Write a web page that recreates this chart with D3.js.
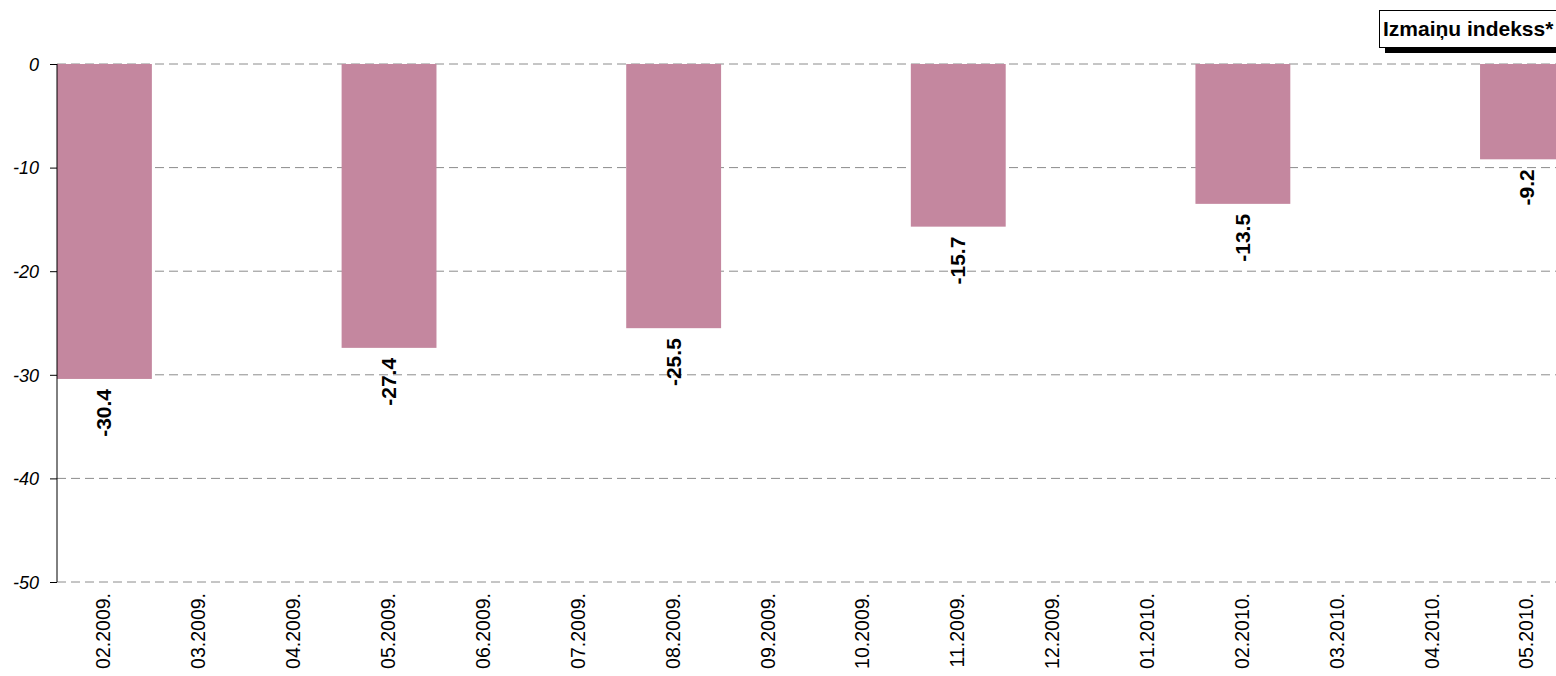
<!DOCTYPE html>
<html><head><meta charset="utf-8">
<script src="https://cdn.jsdelivr.net/npm/d3@7"></script>
<style>body{margin:0;background:#fff}svg{display:block}</style>
</head><body>
<svg id="c" width="1556" height="676"></svg>
<script>
const categories = ["02.2009.","03.2009.","04.2009.","05.2009.","06.2009.","07.2009.","08.2009.","09.2009.","10.2009.","11.2009.","12.2009.","01.2010.","02.2010.","03.2010.","04.2010.","05.2010."];
const values = [-30.4,null,null,-27.4,null,null,-25.5,null,null,-15.7,null,null,-13.5,null,null,-9.2];
const yTicks = [0,-10,-20,-30,-40,-50];
const legendLabel = "Izmaiņu indekss*";

(function(){
const svg = d3.select("#c");
const plotLeft = 57, plotTop = 64, plotBottom = 582, step = 94.87;
const x = d3.scaleBand().domain(categories).range([plotLeft, plotLeft + step*categories.length]).padding(0);
const y = d3.scaleLinear().domain([-50, 0]).range([plotBottom, plotTop]);
const font = "Arial, 'Liberation Sans', sans-serif";
const fmt = d => String(d);

svg.append("g").selectAll("line").data(yTicks).join("line")
  .attr("x1", plotLeft).attr("x2", 1556)
  .attr("y1", d => y(d)).attr("y2", d => y(d))
  .attr("stroke", "#8c8c8c").attr("stroke-width", 1).attr("stroke-dasharray", "9,5");

const data = categories.map((c,i)=>({c, v: values[i]})).filter(d=>d.v!=null);
svg.append("g").selectAll("rect").data(data).join("rect")
  .attr("x", d => x(d.c)).attr("width", x.bandwidth())
  .attr("y", y(0)).attr("height", d => y(d.v) - y(0))
  .attr("fill", "#c4879f");

const yAxis = d3.axisLeft(y).tickValues(yTicks).tickSize(7).tickFormat(fmt);
const gy = svg.append("g").attr("transform", `translate(${plotLeft},0)`).call(yAxis);
gy.select(".domain").attr("d", `M0,${plotTop}V${plotBottom}`).attr("stroke", "#000");
gy.selectAll(".tick line").attr("stroke", "#000");
gy.selectAll(".tick text").attr("x", -18).attr("dy", "0.35em")
  .style("font-family", font).style("font-size", "18px").style("font-style", "italic").attr("fill", "#000");

svg.append("g").selectAll("text").data(categories).join("text")
  .attr("transform", d => `translate(${x(d) + x.bandwidth()/2 + 6},${plotBottom + 11}) rotate(-90)`)
  .attr("text-anchor", "end")
  .style("font-family", font).style("font-size", "19.5px").attr("fill", "#000")
  .text(d => d);

svg.append("g").selectAll("text").data(data).join("text")
  .attr("transform", d => `translate(${x(d.c) + x.bandwidth()/2 + 7},${y(d.v) + 10}) rotate(-90)`)
  .attr("text-anchor", "end")
  .style("font-family", font).style("font-size", "21px").style("font-weight", "bold").attr("fill", "#000")
  .text(d => d.v.toFixed(1));

const lg = svg.append("g");
lg.append("rect").attr("x", 1385).attr("y", 16).attr("width", 200).attr("height", 37).attr("fill", "#000");
lg.append("rect").attr("x", 1379.5).attr("y", 10.5).attr("width", 200).attr("height", 37).attr("fill", "#fff").attr("stroke", "#000").attr("stroke-width", 1);
lg.append("text").attr("x", 1383).attr("y", 36).style("font-family", font).style("font-size", "21px").style("font-weight", "bold").attr("fill", "#000").text(legendLabel);
})();
</script>
</body></html>
